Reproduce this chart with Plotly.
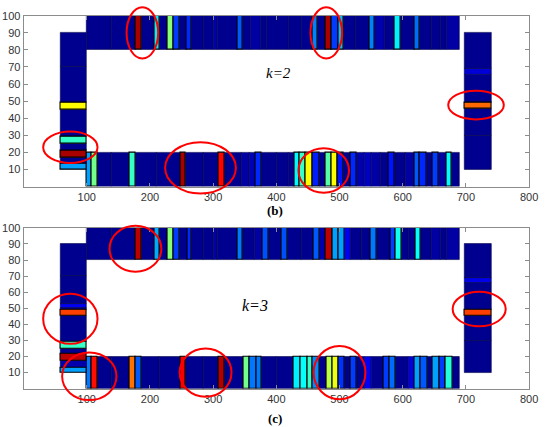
import plotly.graph_objects as go

XMAX, YMAX = 800, 100

# MATLAB-style jet colormap
jet = [[0, 'rgb(0,0,143)'], [0.111, 'rgb(0,0,255)'], [0.365, 'rgb(0,255,255)'],
       [0.619, 'rgb(255,255,0)'], [0.873, 'rgb(255,0,0)'], [1, 'rgb(128,0,0)']]

# ---- panel (b), k=2 ----
b_top_edges = [99, 140, 178, 187, 208, 216, 228, 237, 247, 258, 266, 285, 300, 307, 338, 347, 360, 375, 385, 420,
               440, 457, 465, 478, 487, 499, 507, 525, 548, 556, 572, 587, 597, 618, 627, 645, 660, 670, 690]
b_top_vals = [0, 0, 0.96, 0, 0.35, 0, 0.5, 0.17, 0, 0.15, 0, 0, 0.03, 0, 0.2, 0, 0.02, 0, 0, 0,
              0, 0.24, 0, 0.96, 0.17, 0.3, 0, 0, 0.24, 0.03, 0, 0.35, 0, 0.22, 0, 0, 0, 0.02]
b_bot_edges = [99, 108, 117, 140, 168, 177, 210, 248, 257, 285, 308, 318, 345, 357, 367, 376, 400, 420, 429, 437,
               447, 458, 468, 478, 488, 497, 507, 518, 527, 540, 550, 565, 578, 587, 605, 618, 627, 637, 648, 657,
               669, 678, 690]
b_bot_vals = [0.27, 0.48, 0, 0, 0.42, 0, 0, 0.96, 0, 0, 0.87, 0, 0.02, 0.04, 0.15, 0, 0, 0, 0.36, 0.42,
              0.62, 0.14, 0, 0.45, 0.62, 0.13, 0, 0.15, 0.03, 0.05, 0.02, 0, 0.13, 0, 0.02, 0.2, 0.15, 0, 0.17, 0.02,
              0.36, 0]
b_left_edges = [10, 13.5, 17, 21, 25, 29, 45, 49, 70, 90]
b_left_vals = [0.27, 0, 0.96, 0, 0.42, 0, 0.62, 0, 0]
b_right_edges = [10, 30, 45.5, 49, 65.5, 69, 90]
b_right_vals = [0, 0, 0.77, 0, 0.07, 0]

# ---- panel (c), k=3 ----
c_top_edges = [99, 140, 178, 187, 208, 216, 228, 237, 247, 259, 266, 285, 300, 307, 339, 347, 365, 379, 387, 409,
               418, 440, 459, 468, 478, 489, 498, 508, 518, 535, 549, 559, 580, 589, 598, 610, 620, 629, 645, 660,
               670, 690]
c_top_vals = [0, 0, 0.94, 0, 0.28, 0, 0.5, 0.17, 0, 0.15, 0, 0, 0.02, 0, 0.23, 0, 0.02, 0.19, 0, 0.19,
              0, 0, 0.2, 0.03, 0.94, 0.27, 0.27, 0.1, 0, 0, 0.23, 0, 0.17, 0.38, 0, 0, 0.37, 0, 0.02, 0, 0.02]
c_bot_edges = [99, 107, 117, 140, 167, 177, 187, 215, 248, 257, 285, 308, 318, 348, 358, 368, 377, 400, 428, 439,
               449, 458, 468, 479, 489, 498, 508, 518, 527, 540, 550, 569, 579, 589, 610, 619, 629, 639, 648, 658,
               668, 679, 690]
c_bot_vals = [0.23, 0.86, 0, 0, 0.76, 0.2, 0, 0, 0.88, 0, 0, 0.95, 0, 0.48, 0.23, 0.23, 0, 0, 0.35, 0.37,
              0.42, 0.25, 0, 0.55, 0.6, 0.16, 0, 0.17, 0, 0.1, 0, 0.17, 0.22, 0, 0.08, 0.27, 0.2, 0, 0.27, 0.17,
              0.4, 0]
c_left_edges = [10, 13, 17, 21.4, 25, 29, 45.5, 49, 50, 53, 70, 90]
c_left_vals = [0.27, 0.03, 0.94, 0, 0.42, 0, 0.81, 0, 0.1, 0, 0]
c_right_edges = [10, 30, 45.5, 49, 65.5, 69, 90]
c_right_vals = [0, 0, 0.81, 0, 0.09, 0]

# corridor extents
top_y, bot_y = (80, 100), (0, 20)
left_x, right_x = (58, 99), (698, 740)

# red ellipses: centre x, centre y, radius x, radius y
b_ell = [(188, 90, 25, 15), (479, 90, 25, 15), (74, 23, 43, 9.2),
         (280, 11, 56, 15), (475, 9.4, 40, 13), (716, 47.7, 44, 8.4)]
c_ell = [(177, 87, 41, 14.3), (74, 43.5, 43, 15.6), (104, 7.7, 43, 14.8),
         (288, 10, 41, 15), (500, 10, 41, 16.6), (721, 49.5, 42, 10.7)]


def cells(edges, vals, span, xa, ya, horiz=False):
    out = []
    for hi in (False, True):
        idx = [i for i, v in enumerate(vals) if (v > 0.12) == hi]
        if not idx:
            continue
        c = [(edges[i] + edges[i + 1]) / 2 for i in idx]
        w = [edges[i + 1] - edges[i] for i in idx]
        v = [vals[i] for i in idx]
        mk = dict(color=v, colorscale=jet, cmin=0, cmax=1,
                  line=dict(color='black' if hi else 'rgb(0,0,70)', width=1.1 if hi else 0.6))
        if horiz:
            out.append(go.Bar(y=c, x=[span[1] - span[0]] * len(c), base=span[0], width=w,
                              orientation='h', marker=mk, xaxis=xa, yaxis=ya, showlegend=False))
        else:
            out.append(go.Bar(x=c, y=[span[1] - span[0]] * len(c), base=span[0], width=w,
                              marker=mk, xaxis=xa, yaxis=ya, showlegend=False))
    return out


def ellipse(e, ax):
    cx, cy, rx, ry = e
    return dict(type='circle', xref='x%s domain' % ax, yref='y%s domain' % ax,
                x0=(cx - rx) / XMAX, x1=(cx + rx) / XMAX, y0=(cy - ry) / YMAX, y1=(cy + ry) / YMAX,
                line=dict(color='red', width=2))


traces = []
for (top, bot, lft, rgt, xa, ya) in [
        ((b_top_edges, b_top_vals), (b_bot_edges, b_bot_vals), (b_left_edges, b_left_vals),
         (b_right_edges, b_right_vals), 'x', 'y'),
        ((c_top_edges, c_top_vals), (c_bot_edges, c_bot_vals), (c_left_edges, c_left_vals),
         (c_right_edges, c_right_vals), 'x2', 'y2')]:
    traces += cells(*top, top_y, xa, ya)
    traces += cells(*bot, bot_y, xa, ya)
    traces += cells(*lft, left_x, xa, ya, horiz=True)
    traces += cells(*rgt, right_x, xa, ya, horiz=True)

fig = go.Figure(traces)

axis_style = dict(showline=True, linecolor='#8c8c8c', linewidth=1, mirror='ticks', ticks='inside',
                  ticklen=4, tickcolor='#8c8c8c', showgrid=False, zeroline=False,
                  tickfont=dict(family='Liberation Sans, Arial', size=11, color='#333333'))
xt = dict(range=[0, XMAX], tickvals=[100, 200, 300, 400, 500, 600, 700, 800], **axis_style)
yt = dict(range=[0, YMAX], tickvals=[10, 20, 30, 40, 50, 60, 70, 80, 90, 100], **axis_style)

shapes = [ellipse(e, '') for e in b_ell] + [ellipse(e, '2') for e in c_ell]

annotations = [
    dict(x=403, y=66.5, xref='x', yref='y', text='<i>k=2</i>', showarrow=False,
         font=dict(family='Liberation Serif, Times New Roman', size=15, color='black')),
    dict(x=366, y=51.6, xref='x2', yref='y2', text='<i>k=3</i>', showarrow=False,
         font=dict(family='Liberation Serif, Times New Roman', size=16, color='black')),
    dict(x=0.509, y=0.515, xref='paper', yref='paper', text='<b>(b)</b>', showarrow=False,
         yanchor='middle', font=dict(family='Liberation Serif, Times New Roman', size=13, color='black')),
    dict(x=0.509, y=0.021, xref='paper', yref='paper', text='<b>(c)</b>', showarrow=False,
         yanchor='middle', font=dict(family='Liberation Serif, Times New Roman', size=13, color='black')),
]

fig.update_layout(
    width=550, height=427,
    margin=dict(l=0, r=0, t=0, b=0),
    paper_bgcolor='white', plot_bgcolor='white',
    barmode='overlay', bargap=0,
    xaxis=dict(domain=[0.0436, 0.978], anchor='y', **xt),
    yaxis=dict(domain=[0.571, 0.977], anchor='x', **yt),
    xaxis2=dict(domain=[0.0436, 0.978], anchor='y2', **xt),
    yaxis2=dict(domain=[0.091, 0.473], anchor='x2', **yt),
    shapes=shapes, annotations=annotations,
)

# drop the page's default body margin so the figure sits at the window's corner
fig.write_html("out.html", config={'displayModeBar': False},
               post_script="document.body.style.margin='0';")
